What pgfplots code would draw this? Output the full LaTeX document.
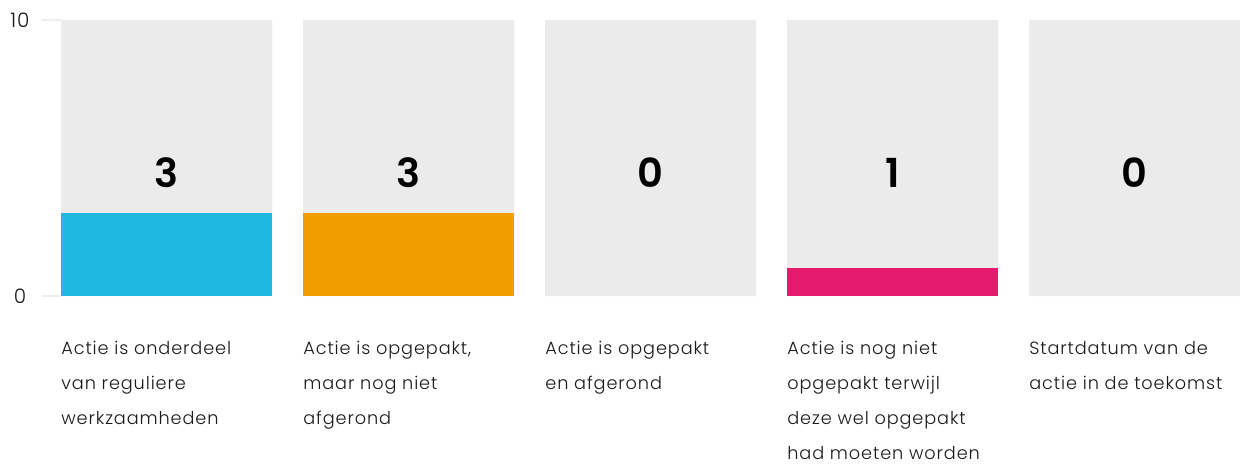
\documentclass[border=0pt]{standalone}
\usepackage{fontspec}
\setmainfont{Poppins}[UprightFont={* Light}, BoldFont={* SemiBold}, LetterSpace=5]
\usepackage{pgfplots}
\pgfplotsset{compat=1.18}
\definecolor{bggray}{HTML}{EBEBEB}
\definecolor{cblue}{HTML}{1FB8DE}
\definecolor{corange}{HTML}{F39C00}
\definecolor{cpink}{HTML}{E5196E}
\definecolor{gridgray}{HTML}{EEEEEE}
\definecolor{txt}{HTML}{1A1A1A}
\begin{document}
\begin{tikzpicture}
\useasboundingbox (-21pt,-83.5pt) rectangle (599pt,148pt);
\begin{axis}[
  at={(0,0)}, anchor=south west,
  scale only axis, width=599pt, height=138pt,
  xmin=-0.5145, xmax=4.436, ymin=0, ymax=10,
  axis line style={draw=none},
  major tick length=0pt,
  ytick={0,10},
  xtick={0,1,2,3,4},
  xticklabels={
    {Actie is onderdeel\\van reguliere\\werkzaamheden},
    {Actie is opgepakt,\\maar nog niet\\afgerond},
    {Actie is opgepakt\\en afgerond},
    {Actie is nog niet\\opgepakt terwijl\\deze wel opgepakt\\had moeten worden},
    {Startdatum van de\\actie in de toekomst}},
  xticklabel style={anchor=north west, align=left, inner sep=0pt,
    xshift=-52.75pt, yshift=-22.5pt,
    font=\fontsize{8.85}{17.5}\selectfont, text=txt},
  yticklabel style={anchor=center, inner sep=0pt, xshift=-11pt,
    font=\fontsize{10}{12}\selectfont, text=txt},
  /pgf/number format/assume math mode=true,
  clip=false,
]
\addplot[gridgray, line width=0.7pt] coordinates {(-0.5145,0) (-0.436,0)};
\addplot[gridgray, line width=0.7pt] coordinates {(-0.5145,10) (-0.436,10)};
\addplot[ybar, bar shift=0pt, bar width=0.8719, fill=bggray, draw=none]
  coordinates {(0,10) (1,10) (2,10) (3,10) (4,10)};
\addplot[ybar, bar shift=0pt, bar width=0.8719, fill=cblue, draw=none]
  coordinates {(0,3)};
\addplot[ybar, bar shift=0pt, bar width=0.8719, fill=corange, draw=none]
  coordinates {(1,3)};
\addplot[ybar, bar shift=0pt, bar width=0.8719, fill=cpink, draw=none]
  coordinates {(3,1)};
\addplot[draw=none, mark=none, point meta=explicit symbolic,
  nodes near coords,
  every node near coord/.style={anchor=center, inner sep=0pt,
    font=\fontsize{20}{24}\selectfont\bfseries, text=black}]
  coordinates {(0,4.47)[3] (1,4.47)[3] (2,4.47)[0] (3,4.47)[1] (4,4.47)[0]};
\end{axis}
\end{tikzpicture}
\end{document}
